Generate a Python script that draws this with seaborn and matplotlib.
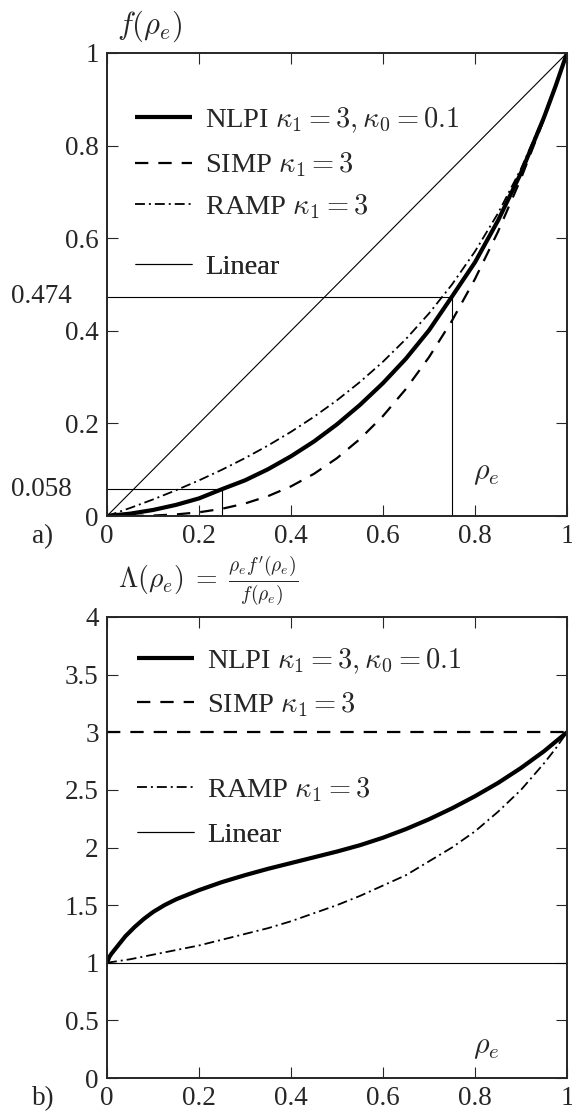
import numpy as np
import pandas as pd
import seaborn as sns
import matplotlib
matplotlib.use("Agg")
import matplotlib.pyplot as plt
from matplotlib import transforms

# ---------------- data ----------------
rho = [0.0, 0.05, 0.10, 0.15, 0.20, 0.25, 0.30, 0.35, 0.40, 0.45, 0.50,
       0.55, 0.60, 0.65, 0.70, 0.75, 0.80, 0.85, 0.90, 0.95, 0.975, 1.0]

f_nlpi = [0.0, 0.005, 0.013, 0.024, 0.038, 0.058, 0.077, 0.101, 0.129, 0.161, 0.198,
          0.240, 0.287, 0.340, 0.401, 0.474, 0.548, 0.638, 0.741, 0.861, 0.928, 1.0]
f_simp = [0.0, 0.0001, 0.001, 0.0034, 0.008, 0.0156, 0.027, 0.0429, 0.064, 0.0911, 0.125,
          0.1664, 0.216, 0.2746, 0.343, 0.4219, 0.512, 0.6141, 0.729, 0.8574, 0.927, 1.0]
f_ramp = [0.0, 0.0172, 0.0357, 0.0556, 0.0769, 0.100, 0.125, 0.1522, 0.1818, 0.2143, 0.250,
          0.2895, 0.3333, 0.3824, 0.4375, 0.500, 0.5714, 0.6538, 0.750, 0.8636, 0.929, 1.0]
lin_rho = [0.0, 1.0]
f_lin = [0.0, 1.0]

rho_n = [0.0, 0.005, 0.01, 0.02, 0.03, 0.04, 0.05, 0.06, 0.08, 0.10, 0.125, 0.15, 0.175,
         0.20, 0.25, 0.30, 0.35, 0.40, 0.45, 0.50, 0.55, 0.60, 0.65, 0.70, 0.75, 0.80,
         0.85, 0.90, 0.95, 1.0]
lam_nlpi = [1.0, 1.05, 1.08, 1.13, 1.18, 1.23, 1.27, 1.31, 1.38, 1.44, 1.50, 1.55, 1.59,
            1.63, 1.70, 1.76, 1.815, 1.865, 1.915, 1.965, 2.02, 2.085, 2.16, 2.245, 2.34,
            2.445, 2.56, 2.69, 2.835, 3.0]
lam_ramp = [1.0, 1.03, 1.07, 1.11, 1.15, 1.20, 1.25, 1.30, 1.36, 1.43, 1.50,
            1.58, 1.67, 1.76, 1.88, 2.00, 2.14, 2.31, 2.50, 2.73, 2.857, 3.0]
lam_simp = [3.0, 3.0]
lam_lin = [1.0, 1.0]

ref_rho = [0.25, 0.75]
ref_f = [0.058, 0.474]
ref_labels = ["0.058", "0.474"]

x_ticks = [0, 0.2, 0.4, 0.6, 0.8, 1]
x_ticklabels = ["0", "0.2", "0.4", "0.6", "0.8", "1"]
ya_ticks = [0, 0.2, 0.4, 0.6, 0.8, 1]
ya_ticklabels = ["0", "0.2", "0.4", "0.6", "0.8", "1"]
yb_ticks = [0, 0.5, 1, 1.5, 2, 2.5, 3, 3.5, 4]
yb_ticklabels = ["0", "0.5", "1", "1.5", "2", "2.5", "3", "3.5", "4"]

labels = ["NLPI $\\kappa_1 = 3, \\kappa_0 = 0.1$", "SIMP $\\kappa_1 = 3$",
          "RAMP $\\kappa_1 = 3$", "Linear"]

# ---------------- style ----------------
sns.set_style("ticks")
plt.rcParams["font.family"] = ["Liberation Serif", "DejaVu Sans"]
plt.rcParams["mathtext.fontset"] = "cm"
FS = 19.5      # tick labels
LFS = 20.5     # legend / annotations

fig = plt.figure(figsize=(5.72, 11.13), dpi=100)
axA = fig.add_axes([107 / 572, 1 - 516 / 1113, 460 / 572, 463 / 1113])
axB = fig.add_axes([107 / 572, 1 - 1078 / 1113, 460 / 572, 461 / 1113])

thick = dict(color="black", linewidth=3.0)
dashed = dict(color="black", linewidth=1.6)
dashdot = dict(color="black", linewidth=1.3)
thin = dict(color="black", linewidth=0.8)


def draw(ax, xs, ys, style, dashes=None):
    sns.lineplot(x=xs, y=ys, ax=ax, legend=False, sort=False, estimator=None, **style)
    ln = ax.get_lines()[-1]
    if dashes is not None:
        ln.set_dashes(dashes)
    ln.set_solid_capstyle("butt")
    ln.set_dash_capstyle("butt")
    ln.set_solid_joinstyle("round")
    return ln


# panel a
lA = []
lA.append(draw(axA, rho, f_nlpi, thick))
lA.append(draw(axA, rho, f_simp, dashed, (6, 4.5)))
lA.append(draw(axA, rho, f_ramp, dashdot, (5.5, 2.2, 1.1, 2.2)))
lA.append(draw(axA, lin_rho, f_lin, thin))
axA.hlines(ref_f, 0, ref_rho, colors="black", linewidth=0.8)
axA.vlines(ref_rho, 0, ref_f, colors="black", linewidth=0.8)

# panel b
lB = []
lB.append(draw(axB, rho_n, lam_nlpi, thick))
lB.append(draw(axB, lin_rho, lam_simp, dashed, (6, 4.5)))
lB.append(draw(axB, rho, lam_ramp, dashdot, (5.5, 2.2, 1.1, 2.2)))
lB.append(draw(axB, lin_rho, lam_lin, thin))

for ax, yt, ytl, ylim in [(axA, ya_ticks, ya_ticklabels, (0, 1)),
                          (axB, yb_ticks, yb_ticklabels, (0, 4))]:
    ax.set_xlim(0, 1)
    ax.set_ylim(*ylim)
    ax.set_xticks(x_ticks)
    ax.set_xticklabels(x_ticklabels)
    ax.set_yticks(yt)
    ax.set_yticklabels(ytl)
    ax.tick_params(direction="in", length=8, width=0.8, top=True, right=True,
                   labelsize=FS, pad=6)
    for s in ax.spines.values():
        s.set_linewidth(1.4)
        s.set_visible(True)
    ax.set_xlabel("")
    ax.set_ylabel("")

# extra value labels in panel a
trA = transforms.blended_transform_factory(axA.transAxes, axA.transData)
for v, t in zip(ref_f, ref_labels):
    axA.text(-0.076, v, t, transform=trA, ha="right", va="center", fontsize=FS)

# legends
def add_legends(ax, lines, ys, x0):
    for ln, lab, y in zip(lines, labels, ys):
        leg = ax.legend(handles=[ln], labels=[lab], loc="center left",
                        bbox_to_anchor=(x0, y), bbox_transform=ax.transAxes,
                        frameon=False, handlelength=2.0, handletextpad=0.45,
                        borderpad=0, borderaxespad=0, fontsize=LFS)
        ax.add_artist(leg)

add_legends(axA, lA, [0.855, 0.758, 0.668, 0.537], 0.061)
add_legends(axB, lB, [0.905, 0.811, 0.625, 0.527], 0.065)

# annotations
axA.text(0.795, 0.09, r"$\rho_e$", fontsize=LFS + 1, ha="left", va="center")
axB.text(0.795, 0.26, r"$\rho_e$", fontsize=LFS + 1, ha="left", va="center")
fig.text(150 / 572, 1 - 26 / 1113, r"$f(\rho_e)$", fontsize=LFS + 1.5, ha="center", va="center")
fig.text(208 / 572, 1 - 581 / 1113,
         r"$\Lambda(\rho_e)\;=\;\frac{\rho_e f^{\prime}(\rho_e)}{f(\rho_e)}$",
         fontsize=LFS - 0.5, ha="center", va="center")
fig.text(43 / 572, 1 - 537 / 1113, "a)", fontsize=FS, ha="center", va="center")
fig.text(43 / 572, 1 - 1099 / 1113, "b)", fontsize=FS, ha="center", va="center")

fig.savefig("out.png", dpi=100)
